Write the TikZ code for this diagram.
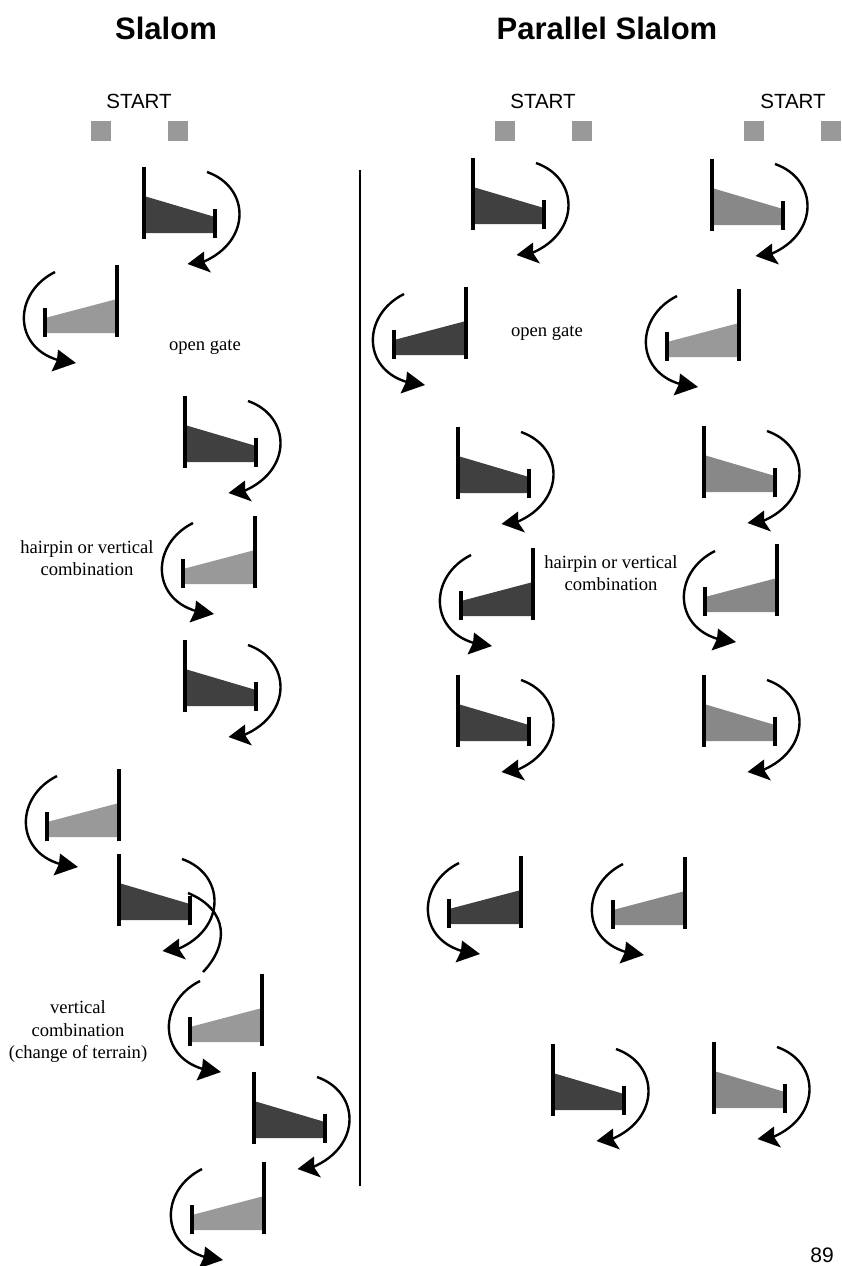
\documentclass[tikz,border=0pt]{standalone}
\usepackage{fontspec}
\setmainfont{Liberation Serif}
\setsansfont{Liberation Sans}
\definecolor{gdark}{HTML}{404040}
\definecolor{gmid}{HTML}{888888}
\definecolor{glight}{HTML}{999999}
\tikzset{
  pole/.style={line width=4.4pt,black},
  turn/.style={line width=2.4pt,black},
  head/.style={fill=black,draw=none},
  title/.style={font=\sffamily\bfseries\fontsize{31}{34}\selectfont,anchor=center},
  startlabel/.style={font=\sffamily\fontsize{20.5}{22}\selectfont,anchor=center},
  note/.style={font=\fontsize{18.6}{22.5}\selectfont,align=center,anchor=center},
  startsq/.style={fill=glight,draw=none}
}
\newcommand{\rgate}[3]{%
  \begin{scope}[shift={(#1,#2)}]
    \fill[#3] (0,29) -- (71,50) -- (71,66) -- (0,66) -- cycle;
    \draw[pole] (0,0) -- (0,72);
    \draw[pole] (71,42) -- (71,71);
    \draw[turn] (63,5) .. controls (106,20) and (108,74) .. (59,95);
    \fill[head] (43.5,97) -- (60,84.5) -- (60,95) -- (67,105.5) -- cycle;
  \end{scope}}
\newcommand{\lgate}[3]{%
  \begin{scope}[shift={(#1,#2)}]
    \fill[#3] (0,34) -- (-72,53) -- (-72,68) -- (0,68) -- cycle;
    \draw[pole] (0,0) -- (0,72);
    \draw[pole] (-72,43) -- (-72,72);
    \draw[turn] (-62,7) .. controls (-104,28) and (-104,82) .. (-59,95);
    \fill[head] (-41,98) -- (-59,84.5) -- (-60,95) -- (-65.5,106.5) -- cycle;
  \end{scope}}
\newcommand{\startsquare}[2]{\fill[startsq] (#1,#2) rectangle ++(20,20);}
\begin{document}
\begin{tikzpicture}[x=1pt,y=-1pt]
\useasboundingbox (0,0) rectangle (841,1266);
\node[title] (t1) at (166,28) {Slalom};
\node[title] (t2) at (607,28) {Parallel Slalom};
\node[startlabel] (s1) at (139,101) {START};
\node[startlabel] (s2) at (543,101) {START};
\node[startlabel] (s3) at (793,101) {START};
\startsquare{91}{121}\startsquare{168}{121}
\startsquare{495}{121}\startsquare{572}{121}
\startsquare{744}{121}\startsquare{821}{121}
\draw[line width=2pt] (360,170) -- (360,1186);
% Slalom
\rgate{144}{167}{gdark}
\lgate{117}{265}{glight}
\rgate{185}{396}{gdark}
\lgate{255}{516}{glight}
\rgate{185}{640}{gdark}
\lgate{119}{769}{glight}
\rgate{119}{854}{gdark}
\lgate{262}{974}{glight}
\rgate{254}{1072}{gdark}
\lgate{264}{1162}{glight}
\draw[turn] (188,893) .. controls (229,910) and (229,945) .. (203,972);
% Parallel 1
\rgate{473}{158}{gdark}
\lgate{466}{287}{gdark}
\rgate{458}{427}{gdark}
\lgate{533}{548}{gdark}
\rgate{458}{675}{gdark}
\lgate{521}{856}{gdark}
\rgate{553}{1044}{gdark}
% Parallel 2
\rgate{712}{159}{gmid}
\lgate{739}{289}{glight}
\rgate{704}{426}{gmid}
\lgate{777}{544}{gmid}
\rgate{704}{675}{gmid}
\lgate{685}{857}{gmid}
\rgate{714}{1042}{gmid}
% Notes
\node[note] (n1) at (205,347) {open gate};
\node[note] (n2) at (547,333) {open gate};
\node[note] (n3) at (87,558) {hairpin or vertical\\combination};
\node[note] (n4) at (611,573) {hairpin or vertical\\combination};
\node[note] (n5) at (78,1032) {vertical\\combination\\(change of terrain)};
\node[font=\sffamily\fontsize{21}{24}\selectfont] (pg) at (822,1255) {89};
\end{tikzpicture}
\end{document}
